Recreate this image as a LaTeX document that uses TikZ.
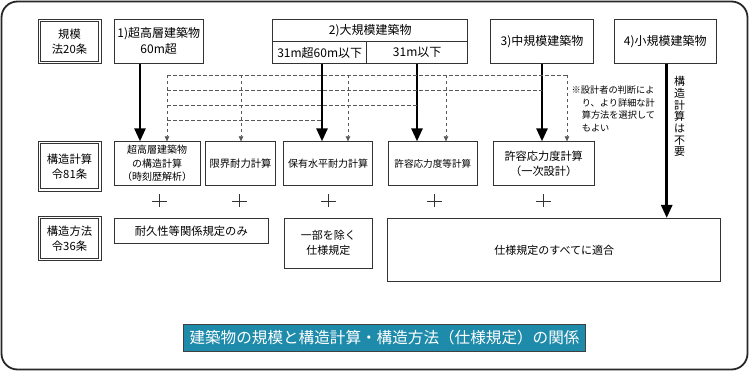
\documentclass[tikz,border=0pt]{standalone}
\usepackage{fontspec}
\setmainfont{Noto Sans CJK JP}
\usetikzlibrary{arrows.meta}
\definecolor{titlebg}{HTML}{1F8BAB}
\definecolor{ln}{HTML}{333333}
\begin{document}
\begin{tikzpicture}[x=1pt,y=-1pt,
  box/.style={draw=ln, line width=0.7pt, inner sep=0pt, align=center},
  lbl/.style={box, line width=0.6pt, font=\fontsize{11.3}{15}\selectfont},
  lblouter/.style={draw=ln, line width=0.6pt},
  topbox/.style={box, minimum height=44pt, font=\fontsize{12}{16}\selectfont},
  calc/.style={box, minimum height=44pt},
  bigarr/.style={line width=2.7pt, -{Triangle[length=13pt,width=11pt]}},
  dline/.style={draw=black!65, line width=0.6pt, dash pattern=on 3.5pt off 2.5pt},
  darr/.style={dline, -{Triangle[length=5pt,width=4.5pt]}},
  plusline/.style={draw=ln, line width=0.6pt}
]
\useasboundingbox (0,0) rectangle (750,371);
% outer frame
\draw[line width=1.8pt, draw=black!85, rounded corners=16pt] (1.5,1.5) rectangle (747.5,369.5);

% row 1
\node[lbl, minimum width=58.4pt, minimum height=40pt] (L1) at (69.5,41.3) {規模\\法20条};
\node[topbox, minimum width=89.3pt] (n1) at (158.7,41.3) {1)超高層建築物\\60m超};
\node[box, minimum width=195pt, minimum height=22.4pt, font=\fontsize{12}{16}\selectfont] (n2) at (370.2,30.5) {2)大規模建築物};
\node[box, minimum width=94pt, minimum height=21.6pt, font=\fontsize{12}{16}\selectfont] (n2a) at (319.7,52.5) {31m超60m以下};
\node[box, minimum width=101pt, minimum height=21.6pt, font=\fontsize{12}{16}\selectfont] (n2b) at (417.2,52.5) {31m以下};
\node[topbox, minimum width=102.6pt] (n3) at (542,41.3) {3)中規模建築物};
\node[topbox, minimum width=102.7pt] (n4) at (665.3,41.3) {4)小規模建築物};

% row 2
\node[lbl, minimum width=58.4pt, minimum height=45pt] (L2) at (69.5,166.2) {構造計算\\令81条};
\node[calc, minimum width=86pt, font=\fontsize{10}{13.5}\selectfont] (c1) at (157,163.7) {超高層建築物\\の構造計算\\（時刻歴解析）};
\node[calc, minimum width=69.6pt, font=\fontsize{10.3}{14}\selectfont] (c2) at (240.5,163.7) {限界耐力計算};
\node[calc, minimum width=89.4pt, font=\fontsize{10}{14}\selectfont] (c3) at (328,163.7) {保有水平耐力計算};
\node[calc, minimum width=89pt, font=\fontsize{9.6}{14}\selectfont] (c4) at (432.8,163.7) {許容応力度等計算};
\node[calc, minimum width=100.7pt, font=\fontsize{11.2}{15}\selectfont] (c5) at (543.7,163.7) {許容応力度計算\\（一次設計）};

% row 3
\node[lbl, minimum width=58.4pt, minimum height=39.3pt] (L3) at (69.5,238.3) {構造方法\\令36条};
\node[box, minimum width=154pt, minimum height=25pt, font=\fontsize{11.3}{15}\selectfont] (m1) at (191.3,230.8) {耐久性等関係規定のみ};
\node[box, minimum width=88.7pt, minimum height=50pt, font=\fontsize{11}{15}\selectfont] (m2) at (328.3,243.3) {一部を除く\\仕様規定};
\node[box, minimum width=333pt, minimum height=63.4pt, font=\fontsize{11}{15}\selectfont] (m3) at (554.2,250) {仕様規定のすべてに適合};

% outer lines of the double-framed labels
\foreach \n in {L1,L2,L3}{
  \draw[lblouter] ([shift={(-2pt,2pt)}]\n.north west) rectangle ([shift={(2pt,-2pt)}]\n.south east);
}

% title
\node[draw=black!75, line width=1pt, fill=titlebg, text=white, inner sep=0pt,
      minimum width=402.4pt, minimum height=27.4pt, font=\fontsize{15.6}{18}\selectfont] (T) at (384.5,338) {建築物の規模と構造計算・構造方法（仕様規定）の関係};

% note & vertical text
\node[anchor=north west, inner sep=0pt, align=left, font=\fontsize{9.2}{12.7}\selectfont] (nt) at (571.5,85.5)
  {※設計者の判断によ\\\hspace*{1.1em}り、より詳細な計\\\hspace*{1.1em}算方法を選択して\\\hspace*{1.1em}もよい};
\node[inner sep=0pt, align=center, font=\fontsize{11}{11.7}\selectfont] (V) at (679.5,116.7)
  {構\\造\\計\\算\\は\\不\\要};

% solid arrows
\coordinate (x1) at (140,0);
\coordinate (x2) at (322,0);
\coordinate (x3) at (417,0);
\coordinate (x4) at (542,0);
\coordinate (x5) at (666.7,0);
\draw[bigarr] (x1 |- n1.south) -- (x1 |- c1.north);
\draw[bigarr] (x2 |- n2a.south) -- (x2 |- c3.north);
\draw[bigarr] (x3 |- n2b.south) -- (x3 |- c4.north);
\draw[bigarr] (x4 |- n3.south) -- (x4 |- c5.north);
\draw[bigarr] (x5 |- n4.south) -- (x5 |- m3.north);

% dashed lines
\coordinate (t1) at (167,75);
\coordinate (t2) at (241,75);
\coordinate (t3) at (348,75);
\coordinate (t4) at (446,75);
\coordinate (t5) at (567,75);
\coordinate (h2) at (167,90);
\coordinate (h3) at (167,105);
\coordinate (h4) at (167,120);
\draw[dline] (t1) -- (t5);
\draw[dline] (h2) -- (x4 |- h2);
\draw[dline] (h3) -- (x3 |- h3);
\draw[dline] (h4) -- (x2 |- h4);
\draw[darr] (t1) -- (t1 |- c1.north);
\draw[darr] (t2) -- (t2 |- c2.north);
\draw[darr] (t3) -- (t3 |- c3.north);
\draw[darr] (t4) -- (t4 |- c4.north);
\draw[darr] (t5) -- (t5 |- c5.north);

% plus signs
\foreach \px in {159.3,239.3,328.3,434.3,543.3}{
  \draw[plusline] (\px-7.5,201) -- (\px+7.5,201) (\px,194.5) -- (\px,207.5);
}
\end{tikzpicture}
\end{document}
